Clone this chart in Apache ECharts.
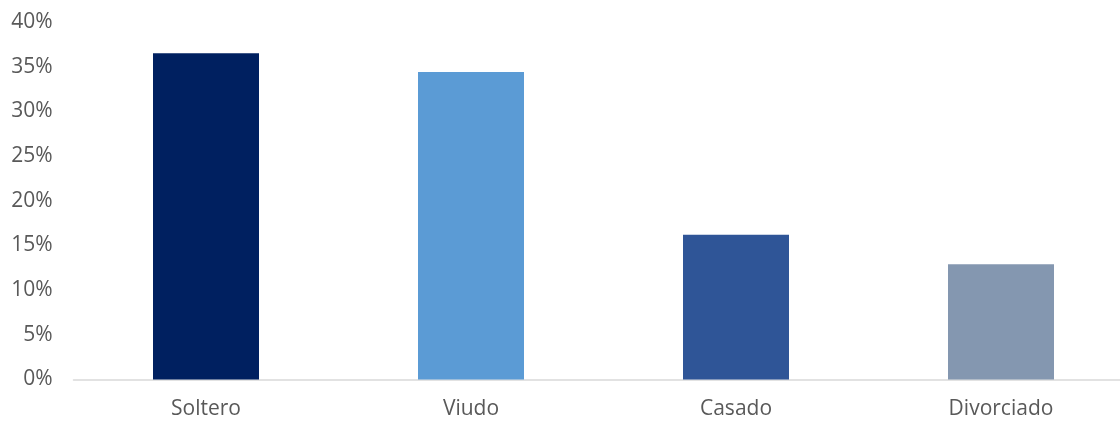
<!DOCTYPE html>
<html><head><meta charset="utf-8">
<script src="https://cdn.jsdelivr.net/npm/echarts@6/dist/echarts.min.js"></script>
<style>html,body{margin:0;padding:0;background:#fff;overflow:hidden}#c{width:1134px;height:421px}</style>
</head><body><div id="c"></div>
<script>
const categories = ['Soltero', 'Viudo', 'Casado', 'Divorciado'];
const values = [36.5, 34.4, 16.2, 12.9];
const barColors = ['#002060', '#5B9BD5', '#2F5597', '#8497B0'];
const yTicks = [0, 5, 10, 15, 20, 25, 30, 35, 40];

const chart = echarts.init(document.getElementById('c'), null, {renderer: 'canvas'});
chart.setOption({
  animation: false,
  grid: {left: 73.5, right: 0.5, top: 22, height: 357.5, containLabel: false},
  xAxis: {
    type: 'category', data: categories,
    axisLine: {lineStyle: {color: '#d9d9d9', width: 1.5}},
    axisTick: {show: false},
    axisLabel: {color: '#595959', fontFamily: 'Open Sans', fontSize: 21, margin: 19}
  },
  yAxis: {
    type: 'value', min: 0, max: 40, interval: 5,
    axisLine: {show: false}, axisTick: {show: false},
    splitLine: {show: false},
    axisLabel: {color: '#595959', fontFamily: 'Open Sans', fontSize: 21, margin: 21,
      formatter: v => yTicks.includes(v) ? v + '%' : ''}
  },
  series: [{
    type: 'bar', barWidth: '40%',
    data: values.map((v, i) => ({value: v, itemStyle: {color: barColors[i]}}))
  }]
});
</script></body></html>
